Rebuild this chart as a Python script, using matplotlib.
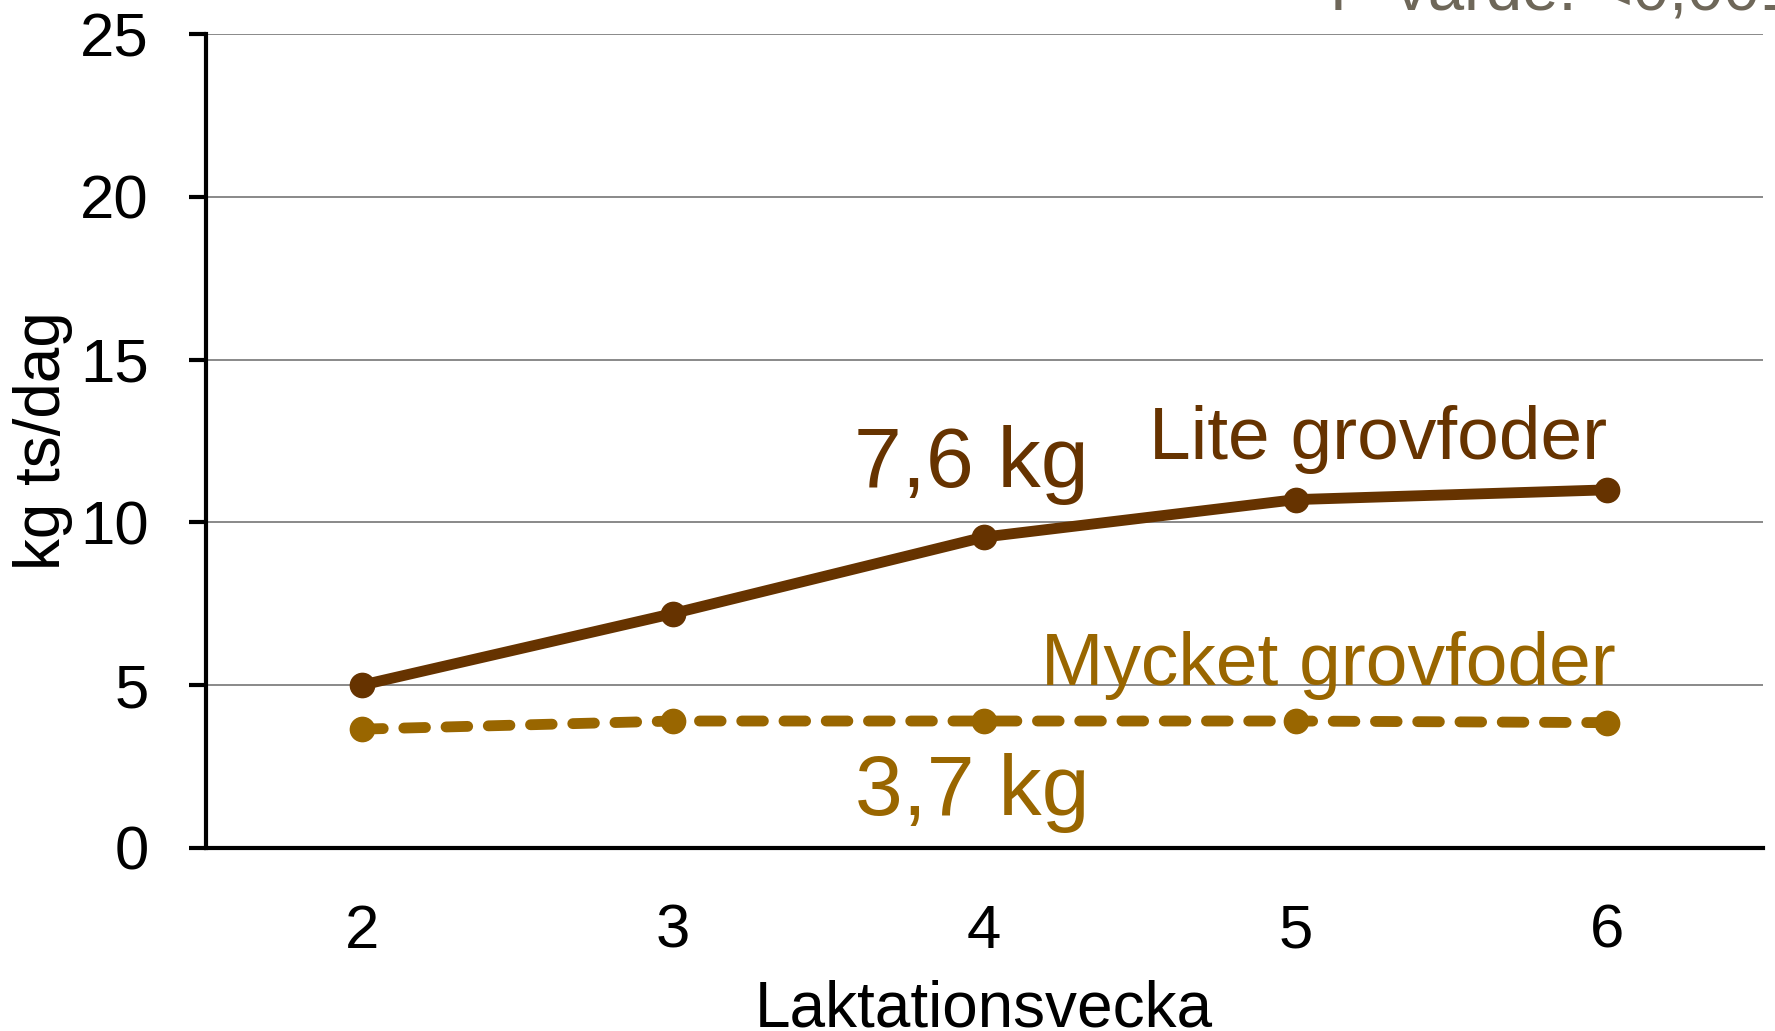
import matplotlib
matplotlib.use("Agg")
from matplotlib import pyplot as plt

plt.rcParams['font.family'] = ['Liberation Sans', 'DejaVu Sans']

# data
veckor = [2, 3, 4, 5, 6]
lite_grovfoder = [5.0, 7.2, 9.55, 10.7, 11.0]
mycket_grovfoder = [3.65, 3.9, 3.9, 3.9, 3.85]
y_ticks = [0, 5, 10, 15, 20, 25]

brown_dark = '#663300'
brown_light = '#996600'

fig = plt.figure(figsize=(17.75, 10.31), dpi=100)
ax = fig.add_axes([0.116, 0.1775, 0.877, 0.7895])

ax.plot(veckor, lite_grovfoder, color=brown_dark, lw=7.8, marker='o', ms=17.5,
        solid_capstyle='round', zorder=3)
line, = ax.plot(veckor, mycket_grovfoder, color=brown_light, lw=7.8, marker='o', ms=17.5,
                dash_capstyle='round', zorder=3)
line.set_dashes((2.0, 1.9))

ax.set_xlim(1.5, 6.5)
ax.set_ylim(0, 25)
ax.set_yticks(y_ticks)
ax.set_xticks(veckor)
ax.yaxis.grid(True, color='#808080', lw=1.3)
ax.set_axisbelow(True)

for s in ['top', 'right']:
    ax.spines[s].set_visible(False)
for s in ['left', 'bottom']:
    ax.spines[s].set_linewidth(3)
    ax.spines[s].set_color('black')

ax.tick_params(axis='y', length=12, width=3, pad=29, labelsize=44.5)
ax.tick_params(axis='x', length=0, pad=40, labelsize=44.5)

ax.set_xlabel('Laktationsvecka', fontsize=46, labelpad=14)
ax.set_ylabel('kg ts/dag', fontsize=46, labelpad=5)

# annotations
ax.text(3.96, 11.1, '7,6 kg', color=brown_dark, fontsize=62, ha='center', va='baseline')
ax.text(6.0, 11.95, 'Lite grovfoder', color=brown_dark, fontsize=54, ha='right', va='baseline')
ax.text(6.03, 5.0, 'Mycket grovfoder', color=brown_light, fontsize=54, ha='right', va='baseline')
ax.text(3.96, 1.0, '3,7 kg', color=brown_light, fontsize=62, ha='center', va='baseline')

fig.text(1330 / 1775, 1 - 9 / 1031, 'P-värde: <0,001', color='#6e6759', fontsize=47,
         ha='left', va='baseline')

fig.savefig('out.png', dpi=100)
